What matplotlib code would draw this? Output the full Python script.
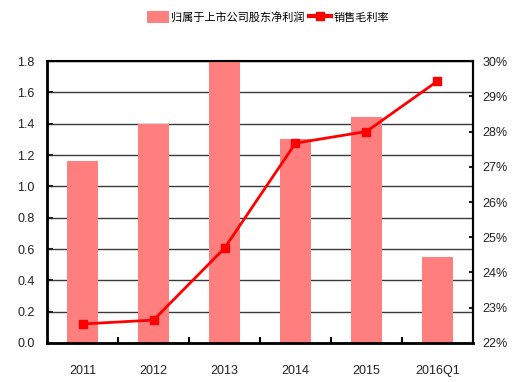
import matplotlib
matplotlib.use('Agg')
import matplotlib.pyplot as plt
import numpy as np
from matplotlib.lines import Line2D
from matplotlib.patches import Patch

plt.rcParams['font.family'] = ['Liberation Sans', 'DejaVu Sans']

years = ['2011', '2012', '2013', '2014', '2015', '2016Q1']
net_profit = [1.16, 1.40, 1.80, 1.30, 1.44, 0.55]
gross_margin = [22.54, 22.65, 24.69, 27.67, 28.0, 29.43]

bar_color = '#FF7F7F'
line_color = '#FF0000'

fig = plt.figure(figsize=(5.2, 3.82), dpi=100)
ax = fig.add_axes([0.0904, 0.1021, 0.8192, 0.7382])
x = np.arange(len(years))

ax.set_axisbelow(True)
ax.yaxis.grid(True, color='#3a3a3a', linewidth=1.0)
ax.bar(x, net_profit, width=0.44, color=bar_color, zorder=2)
ax.set_ylim(0, 1.8)
ax.set_yticks(np.arange(0, 1.81, 0.2))
ax.set_yticklabels(['%.1f' % v for v in np.arange(0, 1.81, 0.2)])
ax.set_xlim(-0.5, len(years) - 0.5)
ax.set_xticks(x)
ax.set_xticklabels(years)
ax.set_xticks(np.arange(0.5, len(years) - 0.5, 1), minor=True)
ax.tick_params(axis='x', which='major', length=0, pad=16, labelsize=9, colors='#222222')
ax.tick_params(axis='x', which='minor', direction='in', length=4, width=1.5)
ax.tick_params(axis='y', direction='in', length=4, width=1.5, labelsize=9, colors='#222222', pad=9)
for s in ax.spines.values():
    s.set_linewidth(1.5)
ax.spines['left'].set_linewidth(2)
ax.spines['bottom'].set_linewidth(2)

ax2 = ax.twinx()
ax2.plot(x, gross_margin, color=line_color, linewidth=2, marker='s', markersize=6, zorder=3)
ax2.set_ylim(22, 30)
ax2.set_yticks(range(22, 31))
ax2.set_yticklabels(['%d%%' % v for v in range(22, 31)])
ax2.tick_params(axis='y', direction='in', length=3, width=1.5, labelsize=9, colors='#222222', pad=7)
ax2.spines['right'].set_linewidth(1.5)

handles = [Patch(facecolor=bar_color, edgecolor='none'),
           Line2D([], [], color=line_color, linewidth=3, marker='s', markersize=6)]
fig.legend(handles, ['归属于上市公司股东净利润', '销售毛利率'], loc='center',
           bbox_to_anchor=(0.515, 0.955), ncol=2, frameon=False, handlelength=2.0,
           handleheight=1.2, handletextpad=0.2, columnspacing=0.4,
           prop={'family': ['Noto Sans CJK SC', 'DejaVu Sans'], 'size': 8})

fig.savefig('out.png', dpi=100)
